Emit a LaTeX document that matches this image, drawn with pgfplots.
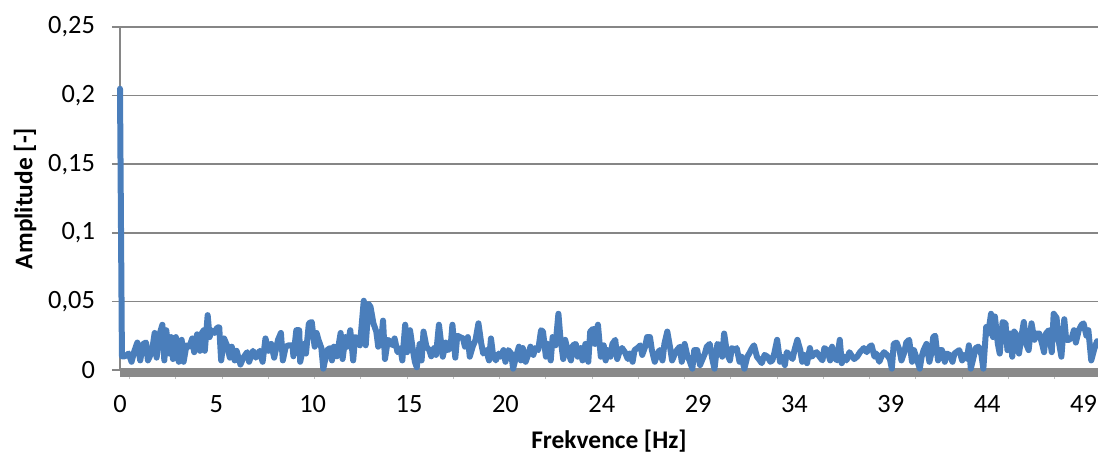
\documentclass[border=0pt]{standalone}
\usepackage{fontspec}
\setmainfont{Carlito}
\usepackage{pgfplots}
\usepackage{pgfplotstable}
\pgfplotsset{compat=1.18}

\definecolor{serieblue}{RGB}{74,126,187}
\definecolor{gridgray}{RGB}{134,134,134}
\definecolor{bandgray}{RGB}{138,138,138}
\definecolor{smalltick}{RGB}{190,190,190}

% amplitude spectrum, x = spectral line index (0.048828 Hz per line)
\pgfplotstableread{
idx amp
0 0.205
2 0.010
5 0.010
9 0.012
12 0.006
15 0.014
18 0.020
21 0.007
24 0.019
27 0.020
29 0.007
33 0.013
36 0.027
38 0.009
41 0.026
44 0.033
46 0.007
48 0.029
51 0.012
53 0.024
55 0.008
58 0.024
61 0.006
64 0.022
66 0.006
69 0.018
72 0.017
75 0.023
77 0.013
80 0.026
83 0.014
85 0.027
87 0.029
88 0.014
91 0.040
93 0.024
95 0.029
98 0.027
101 0.031
103 0.031
105 0.007
108 0.023
111 0.018
114 0.009
116 0.017
119 0.007
121 0.014
125 0.004
128 0.009
132 0.013
134 0.006
138 0.014
141 0.009
145 0.014
148 0.006
151 0.023
154 0.014
157 0.019
160 0.009
164 0.022
167 0.027
169 0.007
172 0.017
175 0.018
179 0.018
180 0.010
183 0.029
186 0.029
187 0.006
191 0.019
193 0.012
196 0.034
199 0.035
202 0.017
204 0.027
206 0.022
209 0.016
211 0.001
215 0.0145
218 0.016
220 0.007
222 0.017
225 0.010
229 0.027
231 0.008
234 0.024
236 0.017
239 0.029
242 0.007
244 0.024
247 0.023
249 0.018
253 0.0505
255 0.018
258 0.048
260 0.046
263 0.034
266 0.028
268 0.017
271 0.021
273 0.036
275 0.008
278 0.022
280 0.021
283 0.018
285 0.023
288 0.013
291 0.016
293 0.007
296 0.033
298 0.013
301 0.029
304 0.0145
306 0.006
308 0.002
311 0.019
313 0.007
315 0.028
318 0.017
321 0.0145
323 0.010
326 0.016
328 0.011
331 0.033
335 0.0097
338 0.020
340 0.0145
343 0.016
345 0.033
348 0.009
350 0.025
353 0.024
356 0.023
358 0.017
361 0.024
363 0.0097
366 0.017
369 0.022
372 0.034
375 0.019
377 0.012
380 0.0145
383 0.007
385 0.023
387 0.012
390 0.007
393 0.012
395 0.0097
398 0.0145
400 0.006
403 0.0145
406 0.012
408 0.001
411 0.0097
414 0.017
416 0.007
418 0.016
421 0.006
424 0.012
426 0.017
429 0.011
431 0.016
434 0.0145
437 0.029
439 0.028
442 0.0097
444 0.019
447 0.007
449 0.024
452 0.018
455 0.041
457 0.024
460 0.008
462 0.022
465 0.013
468 0.007
470 0.018
473 0.019
475 0.0097
478 0.016
480 0.007
483 0.019
486 0.006
488 0.028
491 0.030
493 0.019
496 0.033
499 0.0097
502 0.018
504 0.007
506 0.0145
509 0.0097
511 0.019
514 0.022
516 0.008
519 0.0145
521 0.016
524 0.013
527 0.008
529 0.012
532 0.006
534 0.0145
537 0.016
540 0.018
542 0.011
545 0.017
547 0.024
550 0.024
552 0.0145
555 0.006
558 0.012
560 0.0145
563 0.007
565 0.019
568 0.028
571 0.016
573 0.007
576 0.012
578 0.0145
581 0.017
583 0.006
586 0.019
589 0.0097
591 0.007
594 0.001
596 0.0145
599 0.0145
602 0.0036
604 0.007
607 0.012
609 0.017
612 0.019
615 0.007
617 0.001
620 0.019
622 0.018
625 0.0097
627 0.0266
630 0.012
633 0.007
635 0.016
638 0.0145
640 0.016
643 0.006
645 0.0097
648 0.001
651 0.0097
653 0.012
656 0.016
658 0.018
661 0.0097
664 0.007
666 0.005
669 0.011
672 0.0097
675 0.006
677 0.007
679 0.012
682 0.022
685 0.006
687 0.0097
690 0.0036
692 0.013
695 0.011
698 0.008
700 0.0145
703 0.022
706 0.0145
708 0.006
710 0.011
713 0.005
716 0.016
718 0.0097
721 0.012
723 0.013
726 0.0097
729 0.007
731 0.016
734 0.0145
737 0.007
739 0.017
741 0.0097
744 0.007
747 0.022
749 0.005
752 0.0097
754 0.007
757 0.013
760 0.0097
762 0.008
765 0.0097
768 0.013
770 0.0145
772 0.016
775 0.013
778 0.017
780 0.018
783 0.0097
785 0.012
788 0.006
791 0.011
793 0.013
796 0.011
799 0.008
801 0.001
803 0.019
806 0.020
809 0.0145
811 0.007
814 0.013
816 0.020
819 0.022
822 0.006
824 0.0145
827 0.008
830 0.001
832 0.0097
834 0.0145
837 0.019
840 0.006
842 0.012
844 0.024
846 0.025
849 0.007
851 0.0145
853 0.0145
856 0.006
858 0.012
861 0.011
864 0.006
866 0.012
868 0.013
871 0.0145
874 0.007
876 0.011
879 0.008
881 0.018
883 0.001
886 0.0097
888 0.016
891 0.017
894 0.011
896 0.001
899 0.0314
901 0.0266
904 0.041
906 0.024
908 0.039
911 0.0193
913 0.012
916 0.035
919 0.034
921 0.0145
924 0.0266
926 0.0097
928 0.028
930 0.026
933 0.012
936 0.0266
938 0.035
941 0.018
943 0.0145
946 0.034
949 0.022
951 0.0266
954 0.0266
957 0.019
959 0.013
961 0.0266
964 0.029
967 0.013
969 0.041
972 0.038
974 0.022
977 0.0097
980 0.037
982 0.022
985 0.022
988 0.024
990 0.029
992 0.020
995 0.029
998 0.033
1000 0.034
1003 0.025
1005 0.029
1008 0.007
1011 0.015
1014 0.021
}\spectrum

\begin{document}
\begin{tikzpicture}
\begin{axis}[
  scale only axis, width=489pt, height=171.5pt,
  at={(0,0)}, anchor=south west,
  xmin=0, xmax=1015, ymin=0, ymax=0.25,
  clip=false,
  axis x line=bottom, axis y line=left, axis line style={-},
  x axis line style={draw=none},
  y axis line style={draw=gridgray, line width=0.75pt},
  ymajorgrids, major grid style={draw=gridgray, line width=0.75pt},
  ytick={0,0.05,0.1,0.15,0.2,0.25},
  yticklabels={0,{0,05},{0,1},{0,15},{0,2},{0,25}},
  xtick={0,100,200,300,400,500,600,700,800,900,1000},
  xticklabels={0,5,10,15,20,24,29,34,39,44,49},
  xtick style={draw=none},
  ytick style={draw=gridgray, line width=0.75pt},
  tick align=outside, major tick length=4pt,
  extra x ticks={10,58,106,154,202,250,298,346,394,442,490,538,586,634,682,730,778,826,874,922,970},
  extra x tick labels={},
  extra x tick style={xtick style={draw=smalltick, line width=0.5pt}, major tick length=4.5pt},
  tick label style={font=\fontsize{13.2}{16}\selectfont},
  xticklabel style={yshift=-5pt},
  yticklabel style={xshift=-5pt},
  label style={font=\bfseries\fontsize{12.7}{15}\selectfont},
  xlabel={Frekvence [Hz]},
  ylabel={Amplitude [-]},
  xlabel style={at={(axis description cs:0.5,0)}, anchor=center, yshift=-35.5pt},
  ylabel style={at={(axis description cs:-0.0971,0.5)}, anchor=center},
]
\draw[bandgray, line width=4.5pt] ([yshift=-1.25pt]axis cs:0,0) -- ([yshift=-1.25pt]axis cs:1015,0);
\addplot[serieblue, line width=3pt, line join=round, line cap=round] table[x=idx, y=amp] {\spectrum};
\end{axis}
\pgfresetboundingbox
\path[use as bounding box] (-60pt,-43.5pt) rectangle (489pt,185pt);
\end{tikzpicture}
\end{document}
